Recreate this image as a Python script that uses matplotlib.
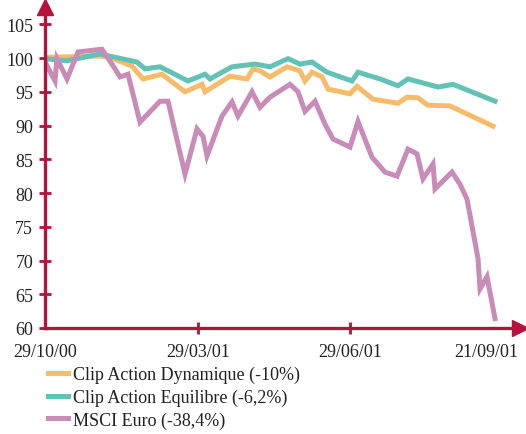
import matplotlib.pyplot as plt

# positions along the period (0 = 29/10/00, 450 = 21/09/01)
x_dyn = [0, 55, 65, 87, 98, 117, 140, 157, 160, 185, 202, 208, 215, 225, 242, 255, 260,
         267, 277, 283, 305, 312, 328, 353, 362, 373, 383, 405, 448]
dyn = [100.1, 100.3, 100.1, 98.8, 96.9, 97.6, 95.0, 96.1, 95.0, 97.3, 96.9, 98.4, 98.1,
       97.2, 98.7, 98.1, 96.6, 97.9, 97.2, 95.4, 94.7, 95.8, 93.9, 93.3, 94.2, 94.1, 93.0,
       92.9, 89.9]

x_equ = [0, 22, 55, 92, 100, 115, 143, 160, 165, 187, 210, 225, 243, 255, 267, 282,
         307, 313, 335, 353, 363, 393, 408, 450]
equ = [99.9, 99.6, 100.6, 99.4, 98.4, 98.7, 96.6, 97.6, 96.9, 98.7, 99.1, 98.7, 99.9,
       99.1, 99.4, 97.9, 96.6, 97.9, 96.9, 95.9, 96.9, 95.7, 96.1, 93.6]

x_msci = [0, 10, 12, 22, 33, 57, 70, 75, 83, 95, 115, 123, 140, 152, 158, 162, 177, 187,
          193, 207, 215, 225, 245, 253, 260, 270, 280, 288, 305, 313, 327, 340, 352, 363,
          372, 378, 388, 390, 407, 415, 422, 433, 435, 442, 450]
msci = [99.4, 96.6, 99.9, 96.9, 100.9, 101.3, 98.4, 97.2, 97.6, 90.5, 93.6, 93.6, 82.8,
        89.5, 88.4, 85.5, 91.4, 93.5, 91.4, 95.0, 92.7, 94.2, 96.1, 95.0, 92.1, 93.6, 90.2,
        88.0, 86.8, 90.6, 85.3, 83.1, 82.5, 86.5, 85.8, 82.1, 84.3, 80.6, 83.1, 81.3, 79.1,
        70.3, 65.8, 67.6, 61.4]

labels = ['Clip Action Dynamique (-10%)', 'Clip Action Equilibre (-6,2%)', 'MSCI Euro (-38,4%)']
colors = ['#F8BB6A', '#62C2B5', '#C98BB8']

tick_pos = [0, 153, 305, 441]
tick_labels = ['29/10/00', '29/03/01', '29/06/01', '21/09/01']
y_ticks = [60, 65, 70, 75, 80, 85, 90, 95, 100, 105]

axis_col = '#B5123C'
plt.rcParams['font.family'] = ['Liberation Serif', 'DejaVu Serif']

fig = plt.figure(figsize=(5.26, 4.35), dpi=100)
ax = fig.add_axes([45 / 526, 106 / 435, 475 / 526, 320.6 / 435])

ax.plot(x_dyn, dyn, color=colors[0], lw=3.6, label=labels[0], solid_joinstyle='miter')
ax.plot(x_equ, equ, color=colors[1], lw=3.6, label=labels[1], solid_joinstyle='miter')
ax.plot(x_msci, msci, color=colors[2], lw=3.6, label=labels[2], solid_joinstyle='miter')

ax.set_xlim(0, 475)
ax.set_ylim(60, 107.5)

for s in ['top', 'right']:
    ax.spines[s].set_visible(False)
for s in ['left', 'bottom']:
    ax.spines[s].set_color(axis_col)
    ax.spines[s].set_linewidth(2.4)
    ax.spines[s].set_zorder(5)

# arrow heads
ax.plot([0], [107.5], marker='^', ms=11, color=axis_col, clip_on=False, zorder=6)
ax.plot([475], [60], marker='>', ms=11, color=axis_col, clip_on=False, zorder=6)

ax.set_yticks(y_ticks)
ax.set_yticklabels([str(v) for v in y_ticks])
ax.set_xticks(tick_pos)
ax.set_xticklabels(tick_labels)
ax.tick_params(axis='both', direction='inout', length=9, width=2, color=axis_col,
               labelsize=13, labelcolor='#222222')
ax.tick_params(axis='y', pad=4)
ax.tick_params(axis='x', pad=6)
ax.xaxis.get_major_ticks()[-1].tick1line.set_visible(False)
ax.xaxis.get_major_ticks()[0].tick1line.set_visible(False)

leg = fig.legend(loc='upper left', bbox_to_anchor=(48 / 526, 1 - 367 / 435), frameon=False,
                 fontsize=13, handlelength=1.1, handletextpad=0.3, labelspacing=0.3,
                 borderaxespad=0, borderpad=0)
for t in leg.get_texts():
    t.set_color('#222222')

fig.savefig('out.png', dpi=100)
